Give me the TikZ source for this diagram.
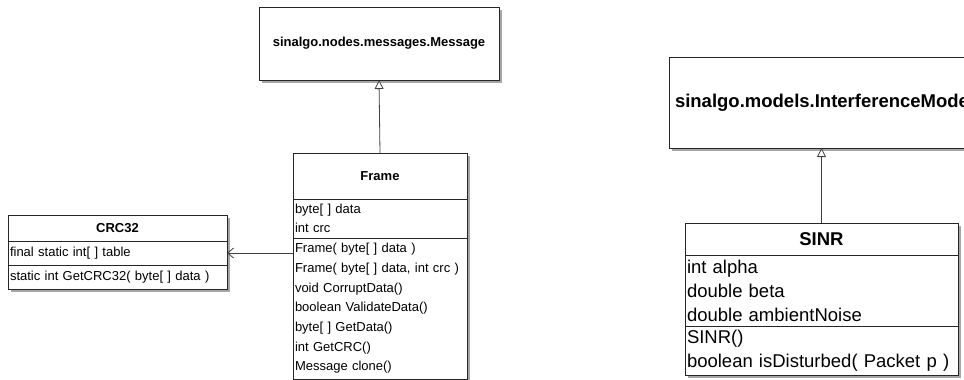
\documentclass[tikz,border=0pt]{standalone}
\usepackage{fontspec}
\setmainfont{Liberation Sans}
\usetikzlibrary{positioning}
\usetikzlibrary{arrows.meta}
\usetikzlibrary{backgrounds}

\tikzset{
  umlbox/.style={draw=black!85, fill=white, line width=0.8pt, outer sep=0pt},
  titlepart/.style={umlbox, anchor=north west, align=center, font=\fontsize{13}{16}\selectfont\bfseries},
  rowpart/.style={umlbox, align=left, inner xsep=2pt, inner ysep=0pt, font=\fontsize{13}{19.7}\selectfont},
  bigtitle/.style={umlbox, anchor=north west, align=center, font=\fontsize{18.5}{22}\selectfont\bfseries},
  bigrow/.style={umlbox, align=left, inner xsep=2pt, inner ysep=0pt, font=\fontsize{18.5}{24}\selectfont},
  shade box/.style={fill=black!35, draw=none},
  inherit/.style={draw=black!75, line width=0.8pt, -{Triangle[open, length=9pt, width=9pt, fill=white]}},
  assoc/.style={draw=black!75, line width=0.8pt, -{Straight Barb[length=6pt, width=10pt]}}
}

\begin{document}
\begin{tikzpicture}[x=1pt, y=-1pt]
\useasboundingbox (0,0) rectangle (964,380);

% left diagram
\node[titlepart, minimum width=240pt, minimum height=73pt] (message) at (259,7) {sinalgo.nodes.messages.Message};

\node[titlepart, minimum width=174pt, minimum height=46pt] (frame) at (293,153) {Frame};
\node[rowpart, text width=170pt, minimum height=39pt, below=0pt of frame] (frame attr) {byte[ ] data\\int crc};
\node[rowpart, text width=170pt, minimum height=141pt, below=0pt of frame attr] (frame ops)
  {Frame( byte[ ] data )\\Frame( byte[ ] data, int crc )\\void CorruptData()\\boolean ValidateData()\\byte[ ] GetData()\\int GetCRC()\\Message clone()};

\node[titlepart, minimum width=219pt, minimum height=26pt] (crc) at (8,215) {CRC32};
\node[rowpart, text width=215pt, minimum height=24pt, below=0pt of crc] (crc attr) {final static int[ ] table};
\node[rowpart, text width=215pt, minimum height=24pt, below=0pt of crc attr] (crc ops) {static int GetCRC32( byte[ ] data )};

\draw[inherit] (frame.north) -- (message.south);
\draw[assoc] (crc attr.east -| frame ops.west) -- (crc attr.east);

% right diagram
\node[bigtitle, minimum height=91pt, inner xsep=6pt] (interference) at (669,57) {sinalgo.models.InterferenceModel};

\node[bigtitle, minimum width=273pt, minimum height=32pt] (sinr) at (685,223) {SINR};
\node[bigrow, text width=269pt, minimum height=71pt, below=0pt of sinr] (sinr attr) {int alpha\\double beta\\double ambientNoise};
\node[bigrow, text width=269pt, minimum height=49pt, below=0pt of sinr attr] (sinr ops) {SINR()\\boolean isDisturbed( Packet p )};

\draw[inherit] (sinr.north) -- (sinr.north |- interference.south);

% drop shadows
\begin{scope}[on background layer]
  \fill[shade box] ([shift={(3,3)}]message.north west) rectangle ([shift={(3,3)}]message.south east);
  \fill[shade box] ([shift={(3,3)}]frame.north west) rectangle ([shift={(3,3)}]frame ops.south east);
  \fill[shade box] ([shift={(3,3)}]crc.north west) rectangle ([shift={(3,3)}]crc ops.south east);
  \fill[shade box] ([shift={(3,3)}]interference.north west) rectangle ([shift={(3,3)}]interference.south east);
  \fill[shade box] ([shift={(3,3)}]sinr.north west) rectangle ([shift={(3,3)}]sinr ops.south east);
\end{scope}
\end{tikzpicture}
\end{document}
